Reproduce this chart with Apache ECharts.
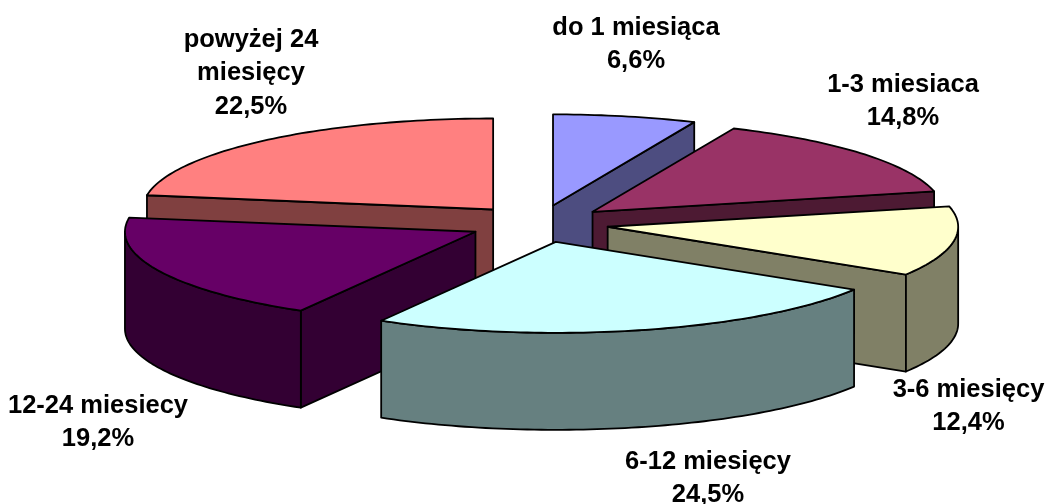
<!DOCTYPE html>
<html><head><meta charset="utf-8">
<style>html,body{margin:0;padding:0;background:#fff}#c{width:1049px;height:504px}</style>
<script src="https://cdn.jsdelivr.net/npm/echarts@6/dist/echarts.min.js"></script>
</head><body><div id="c"></div>
<script>
const categories = ['do 1 miesiąca','1-3 miesiaca','3-6 miesięcy','6-12 miesięcy','12-24 miesiecy','powyżej 24 miesięcy'];
const values = [6.6,14.8,12.4,24.5,19.2,22.5];
const valueLabels = ['6,6%','14,8%','12,4%','24,5%','19,2%','22,5%'];
const labelLines = ['do 1 miesiąca','1-3 miesiaca','3-6 miesięcy','6-12 miesięcy','12-24 miesiecy','powyżej 24\nmiesięcy'];
const topColors = ['#9999FF','#993366','#FFFFCC','#CCFFFF','#660066','#FF8080'];
const sideColors = ['#4D4D80','#4D1A33','#808066','#668080','#330033','#804040'];
const paintOrder = [0,5,1,4,2,3];

// layout of the tilted pie
const CX=538.6, CY=223.7, RX=350.5, RY=91, DEPTH=97, EX=70, EY=18.7;
const labelAt = [[636,11],[903,68],[968.5,373],[708,445],[98,389],[251,23]];

const total = values.reduce((a,b)=>a+b,0);
const starts = []; let acc = 0;
values.forEach(v=>{starts.push(acc); acc += v/total*2*Math.PI;});

function slice(i){
  const a = starts[i], b = a + values[i]/total*2*Math.PI, m=(a+b)/2;
  const ox = CX+EX*Math.sin(m), oy = CY-EY*Math.cos(m);
  const P = (t,d)=>[ox+RX*Math.sin(t), oy-RY*Math.cos(t)+d];
  const arc = (s,e,d)=>{const n=Math.max(2,Math.ceil((e-s)/0.02)),r=[];for(let k=0;k<=n;k++)r.push(P(s+(e-s)*k/n,d));return r;};
  const kids = [];
  const style = c=>({fill:c,stroke:'#000',lineWidth:1.8,lineJoin:'round'});
  const poly = (pts,c)=>kids.push({type:'polygon',shape:{points:pts},style:style(c)});
  if(Math.sin(a)<-1e-6) poly([[ox,oy],P(a,0),P(a,DEPTH),[ox,oy+DEPTH]],sideColors[i]);
  if(Math.sin(b)>1e-6) poly([[ox,oy],P(b,0),P(b,DEPTH),[ox,oy+DEPTH]],sideColors[i]);
  const s=Math.max(a,Math.PI/2), e=Math.min(b,Math.PI*1.5);
  if(e>s) poly(arc(s,e,0).concat(arc(s,e,DEPTH).reverse()),sideColors[i]);
  poly([[ox,oy]].concat(arc(a,b,0)),topColors[i]);
  return kids;
}

const chart = echarts.init(document.getElementById('c'),null,{renderer:'canvas'});
chart.setOption({
  animation:false,
  backgroundColor:'#fff',
  xAxis:{show:false},yAxis:{show:false},
  series:[{
    type:'custom',
    coordinateSystem:'none',
    silent:true,
    data:paintOrder.map(i=>[i,values[i]]),
    renderItem:(p,api)=>({type:'group',children:slice(api.value(0))})
  }],
  graphic:categories.map((c,i)=>({
    type:'text',x:labelAt[i][0],y:labelAt[i][1],silent:true,
    style:{text:labelLines[i]+'\n'+valueLabels[i],fill:'#000',align:'center',verticalAlign:'top',
      font:'bold 25.5px "Liberation Sans",Arial,sans-serif',lineHeight:33.5}
  }))
});
</script></body></html>
